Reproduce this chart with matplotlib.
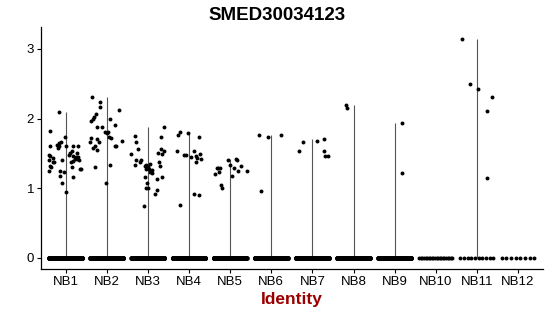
"""
Violin-style expression plot for SMED30034123 across NB identities.
"""

import matplotlib
matplotlib.use("Agg")
import matplotlib.pyplot as plt
import numpy as np

plt.rcParams["font.family"] = ["Liberation Sans", "DejaVu Sans"]

gene = "SMED30034123"
identities = ["NB1", "NB2", "NB3", "NB4", "NB5", "NB6",
              "NB7", "NB8", "NB9", "NB10", "NB11", "NB12"]

# cells with zero expression in each identity
zero_counts = [300, 300, 300, 300, 300, 260, 240, 200, 180, 22, 10, 8]

# non-zero expression values and their jitter
nb1 = [2.10, 1.82, 1.61, 1.48, 1.46, 1.40, 1.43, 1.37, 1.32, 1.30, 1.25,
       1.62, 1.58, 1.65, 1.66, 1.60, 1.73, 1.61, 1.40, 1.25, 1.24, 1.18,
       1.07, 0.95, 1.48, 1.50, 1.60, 1.53, 1.46, 1.42, 1.45, 1.50, 1.60,
       1.45, 1.42, 1.40, 1.39, 1.30, 1.16, 1.27, 1.27, 1.37, 1.37]
nb1_jit = [-0.16, -0.37, -0.39, -0.40, -0.37, -0.40, -0.30, -0.29, -0.39,
           -0.35, -0.40, -0.21, -0.19, -0.16, -0.12, -0.15, -0.02, 0.00,
           -0.08, -0.13, -0.04, -0.13, -0.09, 0.02, 0.08, 0.11, 0.19, 0.16,
           0.19, 0.22, 0.24, 0.27, 0.31, 0.30, 0.28, 0.33, 0.18, 0.16, 0.19,
           0.34, 0.38, 0.14, -0.30]

nb2 = [2.31, 2.24, 2.17, 2.07, 2.02, 1.99, 1.97, 2.12, 2.00, 1.91, 1.88,
       1.88, 1.81, 1.81, 1.79, 1.73, 1.72, 1.72, 1.67, 1.70, 1.67, 1.60,
       1.58, 1.55, 1.60, 1.60, 1.68, 1.33, 1.30, 1.08]
nb2_jit = [-0.35, -0.17, -0.16, -0.27, -0.31, -0.34, -0.38, 0.30, 0.07,
           0.19, -0.11, -0.24, -0.05, 0.03, 0.01, 0.06, 0.11, -0.38, -0.40,
           -0.24, -0.19, -0.29, -0.34, -0.24, 0.19, 0.23, 0.36, 0.09, -0.28,
           -0.03]

nb3 = [1.75, 1.66, 1.56, 1.49, 1.40, 1.38, 1.33, 1.32, 1.34, 1.31, 1.35,
       1.28, 1.28, 1.26, 1.24, 1.16, 1.08, 1.00, 1.00, 0.75, 0.92, 0.98,
       1.13, 1.16, 1.38, 1.50, 1.49, 1.53, 1.57, 1.74, 1.88, 1.32, 1.40,
       1.22]
nb3_jit = [-0.32, -0.30, -0.24, -0.40, -0.28, -0.18, -0.32, -0.08, -0.04,
           0.00, 0.06, -0.05, 0.03, 0.09, 0.06, -0.08, -0.02, -0.05, 0.00,
           -0.10, 0.17, 0.21, 0.22, 0.35, 0.27, 0.25, 0.35, 0.38, 0.33, 0.33,
           0.39, 0.30, -0.16, 0.11]

nb4 = [1.81, 1.76, 1.80, 1.73, 1.53, 1.48, 1.48, 1.45, 1.53, 1.46, 1.44,
       1.49, 1.42, 1.37, 0.92, 0.90, 0.76]
nb4_jit = [-0.21, -0.27, -0.02, 0.24, -0.29, -0.12, -0.08, 0.06, 0.11,
           0.16, 0.20, 0.26, 0.30, 0.16, 0.11, 0.24, -0.23]

nb5 = [1.21, 1.29, 1.29, 1.29, 1.24, 1.05, 1.01, 1.41, 1.33, 1.18, 1.29,
       1.42, 1.40, 1.25, 1.32, 1.25]
nb5_jit = [-0.37, -0.33, -0.29, -0.25, -0.27, -0.23, -0.20, -0.05, -0.01,
           0.05, 0.09, 0.14, 0.17, 0.19, 0.26, 0.40]

nb6 = [1.76, 1.74, 1.77, 0.96]
nb6_jit = [-0.30, -0.09, 0.23, -0.26]

nb7 = [1.54, 1.67, 1.68, 1.71, 1.53, 1.46, 1.46]
nb7_jit = [-0.32, -0.24, 0.11, 0.28, 0.28, 0.30, 0.38]

nb8 = [2.20, 2.15]
nb8_jit = [-0.19, -0.15]

nb9 = [1.94, 1.22]
nb9_jit = [0.17, 0.19]

nb10 = []
nb10_jit = []

nb11 = [3.14, 2.49, 2.43, 2.31, 2.11, 1.15]
nb11_jit = [-0.37, -0.16, 0.02, 0.36, 0.25, 0.24]

nb12 = []
nb12_jit = []

values = [nb1, nb2, nb3, nb4, nb5, nb6, nb7, nb8, nb9, nb10, nb11, nb12]
jitters = [nb1_jit, nb2_jit, nb3_jit, nb4_jit, nb5_jit, nb6_jit, nb7_jit,
           nb8_jit, nb9_jit, nb10_jit, nb11_jit, nb12_jit]


fig = plt.figure(figsize=(5.5, 3.16), dpi=100)
ax = fig.add_axes([0.0745, 0.149, 0.9122, 0.764])

for i, (vals, jit, n0) in enumerate(zip(values, jitters, zero_counts)):
    pos = i + 1
    # degenerate violin: a thin line from 0 up to the group maximum
    if vals:
        ax.vlines(pos, 0, max(vals), color="#555555", lw=0.8, zorder=1)
    xs0 = pos + np.linspace(-0.40, 0.40, n0)
    zsize = 11 if n0 > 100 else 8
    ax.scatter(xs0, np.zeros(n0), s=zsize, color="black", lw=0, zorder=2)
    if vals:
        ax.scatter(pos + np.array(jit), vals, s=8, color="black", lw=0,
                   zorder=3)

ax.set_xlim(0.4, 12.6)
ax.set_ylim(-0.1575, 3.3075)
ax.set_xticks(range(1, len(identities) + 1))
ax.set_xticklabels(identities)
ax.set_yticks([0, 1, 2, 3])

for side in ["top", "right"]:
    ax.spines[side].set_visible(False)
for side in ["left", "bottom"]:
    ax.spines[side].set_linewidth(0.9)
ax.tick_params(axis="both", labelsize=9.5, length=3, width=0.8,
               colors="black", pad=2)

ax.set_xlabel("Identity", fontsize=12.5, fontweight="bold",
              color="#9b0000", labelpad=3)
fig.text(277 / 550, 1 - 15 / 316, gene, ha="center", va="center",
         fontsize=13.5, fontweight="bold")

plt.savefig("out.png", dpi=100)
plt.close()
